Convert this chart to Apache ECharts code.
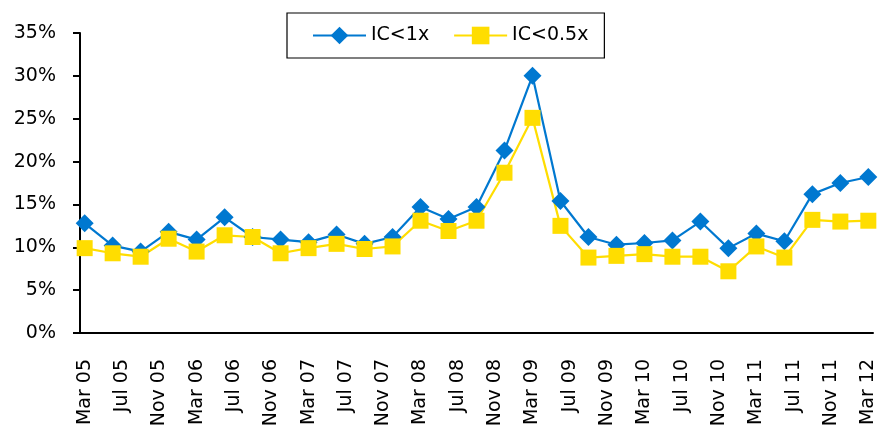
<!DOCTYPE html>
<html>
<head>
<meta charset="utf-8">
<title>IC ratio shares</title>
<script src="https://cdn.jsdelivr.net/npm/echarts@6/dist/echarts.min.js"></script>
<style>
  html, body { margin: 0; padding: 0; background: #fff; }
  #chart { width: 894px; height: 425px; }
</style>
</head>
<body>
<div id="chart"></div>
<script>
// Monthly category axis, Mar 05 .. Mar 12
const monthNames = ['Jan', 'Feb', 'Mar', 'Apr', 'May', 'Jun', 'Jul', 'Aug', 'Sep', 'Oct', 'Nov', 'Dec'];
const firstYear = 2005, firstMonth = 2;   // March 2005
const lastYear = 2012, lastMonth = 2;     // March 2012

// Quarterly observation dates
const quarters = [
  'Mar 05', 'Jun 05', 'Sep 05', 'Dec 05',
  'Mar 06', 'Jun 06', 'Sep 06', 'Dec 06',
  'Mar 07', 'Jun 07', 'Sep 07', 'Dec 07',
  'Mar 08', 'Jun 08', 'Sep 08', 'Dec 08',
  'Mar 09', 'Jun 09', 'Sep 09', 'Dec 09',
  'Mar 10', 'Jun 10', 'Sep 10', 'Dec 10',
  'Mar 11', 'Jun 11', 'Sep 11', 'Dec 11',
  'Mar 12'
];

// Share of firms with interest cover below 1x (%)
const icBelow1 = [
  12.8, 10.2, 9.5, 11.8,
  10.9, 13.5, 11.2, 10.9,
  10.6, 11.5, 10.4, 11.2,
  14.7, 13.3, 14.7, 21.3,
  30.0, 15.4, 11.2, 10.3,
  10.5, 10.8, 13.0, 9.9,
  11.6, 10.7, 16.2, 17.5,
  18.2
];

// Share of firms with interest cover below 0.5x (%)
const icBelowHalf = [
  9.9, 9.3, 8.9, 11.0,
  9.5, 11.4, 11.2, 9.3,
  9.9, 10.4, 9.8, 10.1,
  13.1, 11.9, 13.1, 18.7,
  25.1, 12.5, 8.8, 9.0,
  9.2, 8.9, 8.9, 7.2,
  10.1, 8.8, 13.2, 13.0,
  13.1
];

const yTicks = { min: 0, max: 35, step: 5 };

const categories = [];
for (let y = firstYear, m = firstMonth; y < lastYear || (y === lastYear && m <= lastMonth); ) {
  categories.push(monthNames[m] + ' ' + String(y % 100).padStart(2, '0'));
  m++;
  if (m === 12) { m = 0; y++; }
}

const FONT = 'DejaVu Sans';
const FONT_SIZE = 19;
const BLUE = '#0078D0';
const YELLOW = '#FFDD00';

const chart = echarts.init(document.getElementById('chart'));
chart.setOption({
  animation: false,
  backgroundColor: '#ffffff',
  grid: { left: 80, right: 21, top: 33, bottom: 92, containLabel: false, outerBoundsMode: 'none' },
  legend: {
    left: 287,
    top: 13,
    orient: 'horizontal',
    padding: [13, 16, 13, 25],
    itemGap: 24,
    itemWidth: 53,
    itemHeight: 22,
    borderColor: '#000',
    borderWidth: 1.2,
    textStyle: { fontFamily: FONT, fontSize: FONT_SIZE, color: '#000', padding: [0, 0, 0, 0] },
    data: ['IC<1x', 'IC<0.5x']
  },
  xAxis: {
    type: 'category',
    data: categories,
    boundaryGap: true,
    axisLine: { lineStyle: { color: '#000', width: 2 } },
    axisTick: { interval: 3, length: 6, lineStyle: { color: '#000', width: 2 } },
    axisLabel: {
      interval: 3,
      rotate: 90,
      margin: 26,
      fontFamily: FONT,
      fontSize: FONT_SIZE,
      color: '#000'
    },
    splitLine: { show: false }
  },
  yAxis: {
    type: 'value',
    min: yTicks.min,
    max: yTicks.max,
    interval: yTicks.step,
    axisLine: { show: true, lineStyle: { color: '#000', width: 2 } },
    axisTick: { show: true, length: 7, lineStyle: { color: '#000', width: 2 } },
    axisLabel: {
      formatter: '{value}%',
      margin: 24,
      fontFamily: FONT,
      fontSize: FONT_SIZE,
      color: '#000'
    },
    splitLine: { show: false }
  },
  series: [
    {
      name: 'IC<1x',
      type: 'line',
      data: quarters.map((q, i) => [q, icBelow1[i]]),
      symbol: 'diamond',
      symbolSize: 18,
      showAllSymbol: true,
      color: BLUE,
      lineStyle: { color: BLUE, width: 2.2 },
      itemStyle: { color: BLUE }
    },
    {
      name: 'IC<0.5x',
      type: 'line',
      data: quarters.map((q, i) => [q, icBelowHalf[i]]),
      symbol: 'rect',
      symbolSize: 16,
      showAllSymbol: true,
      color: YELLOW,
      lineStyle: { color: YELLOW, width: 2.2 },
      itemStyle: { color: YELLOW }
    }
  ]
});
</script>
</body>
</html>
